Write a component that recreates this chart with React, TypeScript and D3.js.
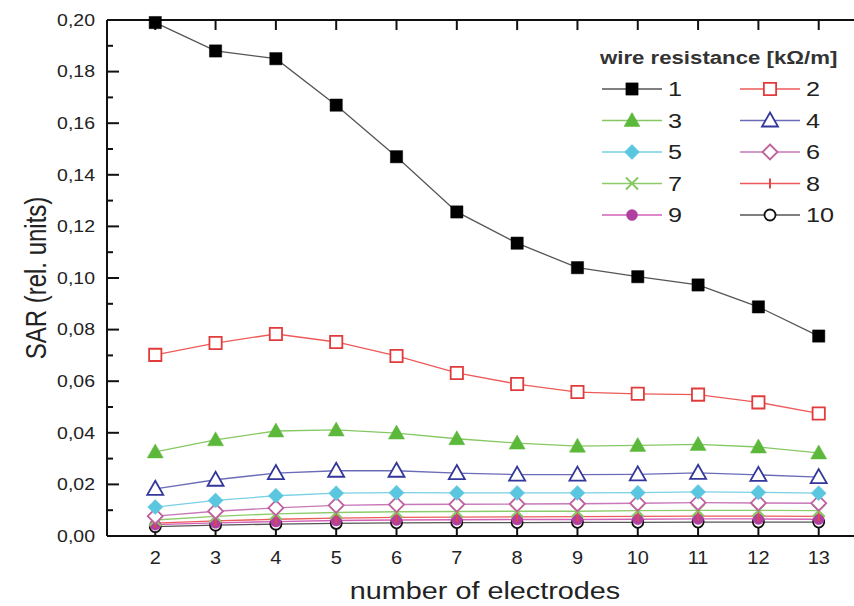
import * as d3 from "d3";

// number of electrodes (x categories)
const electrodes = [2, 3, 4, 5, 6, 7, 8, 9, 10, 11, 12, 13];

// SAR values per wire resistance [kOhm/m]
const sar1 = [0.199, 0.188, 0.185, 0.167, 0.147, 0.1256, 0.1135, 0.104, 0.1005, 0.0973, 0.0888, 0.0775];
const sar2 = [0.0702, 0.0748, 0.0783, 0.0752, 0.0698, 0.0632, 0.0589, 0.0558, 0.0551, 0.0548, 0.0518, 0.0475];
const sar3 = [0.0326, 0.0373, 0.0407, 0.0411, 0.0399, 0.0377, 0.036, 0.0348, 0.0351, 0.0355, 0.0345, 0.0322];
const sar4 = [0.0183, 0.0218, 0.0244, 0.0253, 0.0253, 0.0244, 0.0238, 0.0238, 0.0239, 0.0245, 0.0237, 0.0228];
const sar5 = [0.0112, 0.0138, 0.0156, 0.0166, 0.0168, 0.0167, 0.0167, 0.0167, 0.0168, 0.0171, 0.0169, 0.0166];
const sar6 = [0.0077, 0.0096, 0.0109, 0.0119, 0.0122, 0.0123, 0.0124, 0.0125, 0.0127, 0.0129, 0.0128, 0.0127];
const sar7 = [0.0062, 0.0076, 0.0086, 0.0091, 0.0094, 0.0095, 0.0096, 0.0096, 0.0098, 0.0099, 0.0099, 0.0098];
const sar8 = [0.005, 0.0059, 0.0065, 0.0069, 0.0072, 0.0073, 0.0074, 0.0075, 0.0076, 0.0077, 0.0077, 0.0076];
const sar9 = [0.0044, 0.0051, 0.0056, 0.006, 0.0062, 0.0063, 0.0064, 0.0064, 0.0065, 0.0066, 0.0066, 0.0065];
const sar10 = [0.0036, 0.0042, 0.0046, 0.0049, 0.0051, 0.0052, 0.0052, 0.0053, 0.0053, 0.0054, 0.0054, 0.0054];

const resistances = ["1", "2", "3", "4", "5", "6", "7", "8", "9", "10"];
const seriesValues = [sar1, sar2, sar3, sar4, sar5, sar6, sar7, sar8, sar9, sar10];

const yTicks = [0, 0.02, 0.04, 0.06, 0.08, 0.1, 0.12, 0.14, 0.16, 0.18, 0.2];
const yMinorTicks = [0.01, 0.03, 0.05, 0.07, 0.09, 0.11, 0.13, 0.15, 0.17, 0.19];

const STYLES = [
  { line: "#555555", color: "#000000", shape: "square", fill: true },
  { line: "#ee5a5a", color: "#e23b3b", shape: "square", fill: false },
  { line: "#86c862", color: "#5cb83a", shape: "triangle", fill: true },
  { line: "#6a6cb8", color: "#34379a", shape: "triangle", fill: false },
  { line: "#7ad0e4", color: "#5bc6df", shape: "diamond", fill: true },
  { line: "#c878b8", color: "#c0609e", shape: "diamond", fill: false },
  { line: "#8ccc6a", color: "#86c862", shape: "x", fill: false },
  { line: "#ee5a5a", color: "#e04848", shape: "bar", fill: false },
  { line: "#d060b8", color: "#b03fa0", shape: "circle", fill: true },
  { line: "#555555", color: "#111111", shape: "circle", fill: false },
];

const W = 854;
const H = 606;
const M = { left: 107, top: 20, bottom: 536, right: 873 };
const STRETCH = 1.2; // text in the picture is widened horizontally

function markerPath(shape) {
  switch (shape) {
    case "square":
      return d3.symbol(d3.symbolSquare, 150)();
    case "triangle":
      return "M0,-8L8,6L-8,6Z";
    case "diamond":
      return "M0,-7.5L7.5,0L0,7.5L-7.5,0Z";
    case "x":
      return "M-6,-6L6,6M-6,6L6,-6";
    case "bar":
      return "M0,-5L0,5";
    case "circle":
      return d3.symbol(d3.symbolCircle, 95)();
    default:
      return "";
  }
}

function Marker({ s, x, y }) {
  const p = markerPath(s.shape);
  const isStroke = s.shape === "x" || s.shape === "bar";
  return (
    <path
      d={p}
      transform={`translate(${x},${y})`}
      fill={s.fill ? s.color : isStroke ? "none" : "#ffffff"}
      stroke={s.color}
      strokeWidth={isStroke ? 2 : s.fill ? 0.5 : 1.8}
    />
  );
}

function WideText({ x, y, size, anchor = "start", weight = "normal", fill = "#222", stretch = STRETCH, children }) {
  return (
    <g transform={`translate(${x},${y}) scale(${stretch},1)`}>
      <text x={0} y={0} dy="0.35em" textAnchor={anchor} fontSize={size} fontWeight={weight} fill={fill}>
        {children}
      </text>
    </g>
  );
}

export default function App() {
  const x = d3.scaleLinear().domain([1.2, 13.9]).range([M.left, M.right]);
  const y = d3.scaleLinear().domain([0, 0.2]).range([M.bottom, M.top]);
  const fmt = (v) => d3.format(".2f")(v).replace(".", ",");
  const line = d3
    .line()
    .x((d) => x(d[0]))
    .y((d) => y(d[1]));

  const font = "Arial, 'Liberation Sans', sans-serif";
  const order = [9, 8, 7, 6, 5, 4, 3, 2, 1, 0];

  return (
    <svg width={W} height={H} style={{ position: "absolute", left: 0, top: 0 }} fontFamily={font}>
      <rect width={W} height={H} fill="#ffffff" />

      {/* series lines */}
      {order.map((i) => (
        <path
          key={"l" + i}
          d={line(electrodes.map((e, k) => [e, seriesValues[i][k]]))}
          fill="none"
          stroke={STYLES[i].line}
          strokeWidth={1.3}
        />
      ))}

      {/* frame and ticks */}
      <line x1={M.left} x2={W} y1={M.top} y2={M.top} stroke="#111" strokeWidth={2} />
      <line x1={M.left} x2={W} y1={M.bottom} y2={M.bottom} stroke="#111" strokeWidth={2.2} />
      <line x1={M.left} x2={M.left} y1={M.top} y2={M.bottom} stroke="#111" strokeWidth={2} />
      {yTicks.map((t) => (
        <g key={"yt" + t}>
          <line x1={M.left} x2={M.left + 12} y1={y(t)} y2={y(t)} stroke="#111" strokeWidth={2} />
          <WideText x={95} y={y(t)} size={16.5} anchor="end" stretch={1.18}>
            {fmt(t)}
          </WideText>
        </g>
      ))}
      {yMinorTicks.map((t) => (
        <line key={"ym" + t} x1={M.left} x2={M.left + 6} y1={y(t)} y2={y(t)} stroke="#111" strokeWidth={2} />
      ))}
      {electrodes.map((e) => (
        <g key={"xt" + e}>
          <line x1={x(e)} x2={x(e)} y1={M.bottom} y2={M.bottom - 12} stroke="#111" strokeWidth={2} />
          <line x1={x(e)} x2={x(e)} y1={M.top} y2={M.top + 10} stroke="#111" strokeWidth={2} />
          <WideText x={x(e)} y={557} size={19} anchor="middle" stretch={1.05}>
            {e}
          </WideText>
        </g>
      ))}

      {/* markers */}
      {order.map((i) => (
        <g key={"m" + i}>
          {electrodes.map((e, k) => (
            <Marker key={k} s={STYLES[i]} x={x(e)} y={y(seriesValues[i][k])} />
          ))}
        </g>
      ))}

      {/* axis titles */}
      <text
        transform={`translate(36,${(M.top + M.bottom) / 2}) rotate(-90) scale(1,${STRETCH})`}
        textAnchor="middle"
        dy="0.35em"
        fontSize={24}
        fill="#222"
      >
        SAR (rel. units)
      </text>
      <WideText x={485} y={591} size={24} anchor="middle">
        number of electrodes
      </WideText>

      {/* legend */}
      <WideText x={600} y={58} size={18.5} weight="bold" fill="#333">
        wire resistance [kΩ/m]
      </WideText>
      {resistances.map((r, i) => {
        const col = i % 2;
        const row = Math.floor(i / 2);
        const lx = col === 0 ? 602 : 740;
        const ly = 89 + row * 31.5;
        return (
          <g key={"lg" + r}>
            <line x1={lx} x2={lx + 60} y1={ly} y2={ly} stroke={STYLES[i].line} strokeWidth={1.3} />
            <Marker s={STYLES[i]} x={lx + 30} y={ly} />
            <WideText x={lx + 66} y={ly} size={21}>
              {r}
            </WideText>
          </g>
        );
      })}
    </svg>
  );
}
